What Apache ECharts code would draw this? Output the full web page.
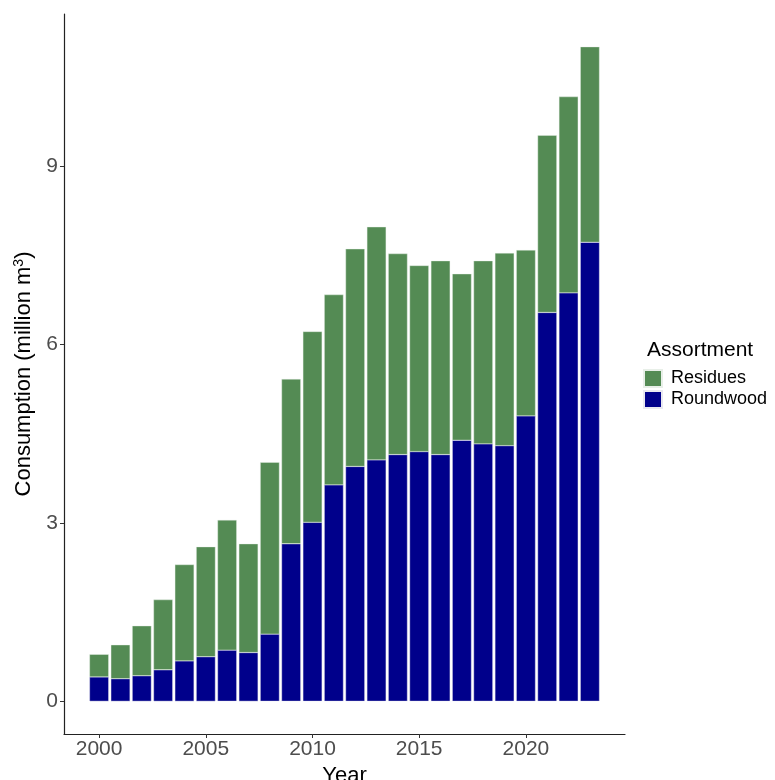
<!DOCTYPE html>
<html>
<head>
<meta charset="utf-8">
<script src="https://cdn.jsdelivr.net/npm/echarts@6/dist/echarts.min.js"></script>
<style>
  html, body { margin: 0; padding: 0; background: #fff; }
  #chart { width: 775px; height: 780px; }
</style>
</head>
<body>
<div id="chart"></div>
<script>
// Annual wood energy consumption by assortment, million m3
const years = [2000, 2001, 2002, 2003, 2004, 2005, 2006, 2007, 2008, 2009, 2010, 2011,
               2012, 2013, 2014, 2015, 2016, 2017, 2018, 2019, 2020, 2021, 2022, 2023];
const roundwood = [0.41, 0.38, 0.43, 0.53, 0.68, 0.75, 0.86, 0.82, 1.13, 2.65, 3.01, 3.64,
                   3.95, 4.06, 4.15, 4.20, 4.15, 4.39, 4.33, 4.30, 4.80, 6.54, 6.87, 7.72];
const residues = [0.38, 0.57, 0.84, 1.18, 1.62, 1.85, 2.19, 1.83, 2.89, 2.77, 3.21, 3.20,
                  3.66, 3.92, 3.38, 3.13, 3.26, 2.80, 3.08, 3.24, 2.79, 2.98, 3.30, 3.29];
const xTicks = [2000, 2005, 2010, 2015, 2020];
const yTicks = [0, 3, 6, 9];

const FONT = '"Liberation Sans", Arial, sans-serif';
const GREEN = '#548B54';
const NAVY = '#00008B';

// Panel geometry: the visible year scale runs a little past the first and last bar
const X_MIN = 1998.355, X_MAX = 2024.645;
const Y_MIN = -0.55, Y_MAX = 11.56;
const PLOT_LEFT = 64, PLOT_RIGHT = 625, PLOT_TOP = 14, PLOT_BOTTOM = 734, W = 775, H = 780;
const pxPerYear = (PLOT_RIGHT - PLOT_LEFT) / (X_MAX - X_MIN);
const bandLeft = PLOT_LEFT + (years[0] - 0.5 - X_MIN) * pxPerYear;
const bandRight = PLOT_LEFT + (years[years.length - 1] + 0.5 - X_MIN) * pxPerYear;

const chart = echarts.init(document.getElementById('chart'), null, { renderer: 'canvas' });

chart.setOption({
  backgroundColor: '#ffffff',
  animation: false,
  textStyle: { fontFamily: FONT },
  grid: [
    // axes panel
    { left: PLOT_LEFT, right: W - PLOT_RIGHT, top: PLOT_TOP, bottom: H - PLOT_BOTTOM,
      containLabel: false, outerBoundsMode: 'none' },
    // bar panel: one band per year, aligned with the year scale above
    { left: bandLeft, right: W - bandRight, top: PLOT_TOP, bottom: H - PLOT_BOTTOM,
      containLabel: false, outerBoundsMode: 'none' }
  ],
  title: {
    text: 'Assortment',
    left: 647, top: 340, padding: 0,
    textStyle: { fontFamily: FONT, fontSize: 21, fontWeight: 'normal', color: '#000' }
  },
  legend: {
    data: ['Residues', 'Roundwood'],
    orient: 'vertical',
    left: 643, top: 369, padding: 0,
    itemWidth: 18, itemHeight: 17, itemGap: 2,
    icon: 'rect',
    textStyle: { fontFamily: FONT, fontSize: 18, color: '#000', lineHeight: 17, padding: [0, 0, 0, 4] }
  },
  xAxis: [
    {
      gridIndex: 0, type: 'value',
      min: X_MIN, max: X_MAX,
      name: 'Year', nameLocation: 'middle', nameGap: 26,
      nameTextStyle: { fontFamily: FONT, fontSize: 22, color: '#000' },
      axisLine: { show: true, onZero: false, lineStyle: { color: '#222', width: 1.2 } },
      axisTick: { show: true, customValues: xTicks, length: 4, lineStyle: { color: '#333' } },
      axisLabel: {
        customValues: xTicks, margin: 5, fontFamily: FONT, fontSize: 21, color: '#4D4D4D',
        formatter: v => String(v)
      },
      splitLine: { show: false }
    },
    {
      gridIndex: 1, type: 'category', data: years.map(String),
      show: false, boundaryGap: true
    }
  ],
  yAxis: [
    {
      gridIndex: 0, type: 'value',
      min: Y_MIN, max: Y_MAX,
      name: 'Consumption (million m{sup|3})',
      nameLocation: 'middle', nameGap: 22, nameRotate: 90,
      nameTextStyle: {
        fontFamily: FONT, fontSize: 22, color: '#000',
        rich: { sup: { fontFamily: FONT, fontSize: 14, color: '#000', verticalAlign: 'top', padding: [0, 0, 10, 0] } }
      },
      axisLine: { show: true, onZero: false, lineStyle: { color: '#222', width: 1.2 } },
      axisTick: { show: true, customValues: yTicks, length: 4, lineStyle: { color: '#333' } },
      axisLabel: { customValues: yTicks, margin: 6, fontFamily: FONT, fontSize: 21, color: '#4D4D4D' },
      splitLine: { show: false }
    },
    {
      gridIndex: 1, type: 'value',
      min: Y_MIN, max: Y_MAX, show: false, splitLine: { show: false }
    }
  ],
  series: [
    {
      name: 'Roundwood', type: 'bar', stack: 'total',
      xAxisIndex: 1, yAxisIndex: 1,
      data: roundwood, barWidth: '90%',
      itemStyle: { color: NAVY, borderColor: '#e8e8f0', borderWidth: 0.4 }
    },
    {
      name: 'Residues', type: 'bar', stack: 'total',
      xAxisIndex: 1, yAxisIndex: 1,
      data: residues, barWidth: '90%',
      itemStyle: { color: GREEN, borderColor: '#e8efe8', borderWidth: 0.4 }
    }
  ]
});
</script>
</body>
</html>
